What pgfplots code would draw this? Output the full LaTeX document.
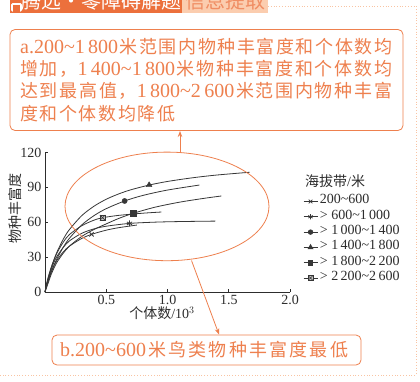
\documentclass[border=0pt]{standalone}
\usepackage{fontspec}
\setmainfont{Liberation Serif}
\newfontfamily\cjk{Noto Sans CJK SC}
\usepackage{pgfplots}
\pgfplotsset{compat=1.18}
\usetikzlibrary{arrows.meta}
\definecolor{org}{RGB}{238,128,78}
\definecolor{orgd}{RGB}{236,112,60}
\definecolor{orgbg}{RGB}{251,205,175}
\definecolor{crv}{RGB}{55,55,55}
\definecolor{txt}{RGB}{45,45,45}
\pgfdeclareplotmark{sqx}{%
  \pgfpathrectangle{\pgfqpoint{-\pgfplotmarksize}{-\pgfplotmarksize}}{\pgfqpoint{2\pgfplotmarksize}{2\pgfplotmarksize}}%
  \pgfusepathqfillstroke
  \pgfpathmoveto{\pgfqpoint{-\pgfplotmarksize}{-\pgfplotmarksize}}%
  \pgfpathlineto{\pgfqpoint{\pgfplotmarksize}{\pgfplotmarksize}}%
  \pgfpathmoveto{\pgfqpoint{-\pgfplotmarksize}{\pgfplotmarksize}}%
  \pgfpathlineto{\pgfqpoint{\pgfplotmarksize}{-\pgfplotmarksize}}%
  \pgfusepathqstroke}
\newcommand\cjkb{\cjk\fontsize{18}{24}\selectfont}
\begin{document}
\begin{tikzpicture}[x=1pt,y=1pt]
\useasboundingbox (0,0) rectangle (420,-381);
\clip (0,0) rectangle (420,-381);
\fill[white] (0,0) rectangle (420,-381);
% header
\fill[orgd] (10,8) rectangle (182,-12.5);
\fill[orgbg] (182,8) rectangle (268,-12.5);
\fill[white,rounded corners=1.5pt] (11,-3) rectangle (22,-11.5);
\fill[orgd] (13,-5) rectangle (20,-11.5);
\node[text=white, font=\cjk\fontsize{20}{20}\selectfont] at (101,-1) {腾远·零障碍解题};
\node[text=orgd!80, font=\cjk\fontsize{20}{20}\selectfont] at (225,-1) {信息提取};
\draw[orgbg!90!orgd, dotted, line width=0.8pt] (268,-6) -- (416,-6) -- (416,-375) -- (0,-375);
% box a
\draw[org, line width=0.8pt, rounded corners=5pt] (10,-29.5) rectangle (403,-130.5);
\begin{scope}[every node/.style={anchor=base west, inner sep=0pt, text=org, font=\fontsize{20}{24}\selectfont}]
\node at (20,-53.5) {\makebox[372pt][s]{a.200\textasciitilde1\,800\hfill\cjkb 米\hfill 范\hfill 围\hfill 内\hfill 物\hfill 种\hfill 丰\hfill 富\hfill 度\hfill 和\hfill 个\hfill 体\hfill 数\hfill 均}};
\node at (20,-75.5) {\makebox[372pt][s]{{\cjkb 增\hfill 加\hfill ，}1\,400\textasciitilde1\,800\hfill\cjkb 米\hfill 物\hfill 种\hfill 丰\hfill 富\hfill 度\hfill 和\hfill 个\hfill 体\hfill 数\hfill 均}};
\node at (20,-97.4) {\makebox[372pt][s]{{\cjkb 达\hfill 到\hfill 最\hfill 高\hfill 值\hfill ，}1\,800\textasciitilde2\,600\hfill\cjkb 米\hfill 范\hfill 围\hfill 内\hfill 物\hfill 种\hfill 丰\hfill 富}};
\node at (20,-120.5) {\makebox[155pt][s]{\cjkb 度\hfill 和\hfill 个\hfill 体\hfill 数\hfill 均\hfill 降\hfill 低}};
\node at (60,-356.5) {\makebox[288pt][s]{b.200\textasciitilde600\hfill\cjkb 米\hfill 鸟\hfill 类\hfill 物\hfill 种\hfill 丰\hfill 富\hfill 度\hfill 最\hfill 低}};
\end{scope}
\draw[org, line width=0.8pt, rounded corners=5pt] (52,-335) rectangle (361,-365);
% chart
\begin{axis}[at={(45pt,-292pt)}, anchor=south west, scale only axis,
  width=245pt, height=139.5pt, xmin=0, xmax=2, ymin=0, ymax=120,
  axis lines=left, axis line style={-, txt, line width=0.7pt},
  xtick={0.5,1,1.5,2}, ytick={0,30,60,90,120},
  tick align=inside, major tick length=3pt, tick style={txt, line width=0.6pt},
  ticklabel style={font=\fontsize{14}{14}\selectfont, text=txt},
  /pgf/number format/assume math mode=true,
  xticklabel style={/pgf/number format/.cd, fixed, fixed zerofill, precision=1},
  clip=false,
  legend cell align=left,
  legend image code/.code={\draw[mark repeat=2,mark phase=2,#1] plot coordinates {(0pt,0pt) (7pt,0pt) (14pt,0pt)};},
  legend style={draw=none, fill=none, at={(axis description cs:1.053,0.705)}, anchor=north west,
    inner sep=0pt, row sep=0pt, column sep=2pt, font=\fontsize{14}{15}\selectfont, text=txt,
    nodes={inner sep=0pt, text height=10pt, text depth=5.3pt}},
]
\addlegendimage{crv, line width=0.7pt, mark=x, mark size=2.6pt}
\addlegendentry{200\textasciitilde600}
\addlegendimage{crv, line width=0.7pt, mark=asterisk, mark size=2.6pt}
\addlegendentry{> 600\textasciitilde1\,000}
\addlegendimage{crv, line width=0.7pt, mark=*, mark size=2.3pt}
\addlegendentry{> 1\,000\textasciitilde1\,400}
\addlegendimage{crv, line width=0.7pt, mark=triangle*, mark size=2.8pt}
\addlegendentry{> 1\,400\textasciitilde1\,800}
\addlegendimage{crv, line width=0.7pt, mark=square*, mark size=2.3pt}
\addlegendentry{> 1\,800\textasciitilde2\,200}
\addlegendimage{crv, line width=0.7pt, mark=sqx, mark size=2.3pt, mark options={fill=gray!45, line width=0.5pt}}
\addlegendentry{> 2\,200\textasciitilde2\,600}
% 1400-1800
\addplot[crv, line width=0.8pt, smooth, forget plot] coordinates {(0,0) (0.005,2.43) (0.01,4.76) (0.02,9.15) (0.035,15.1) (0.05,20.5) (0.075,28.3) (0.1,34.9) (0.15,45.6) (0.2,53.8) (0.3,65.7) (0.4,73.8) (0.5,79.8) (0.6,84.3) (0.7,87.9) (0.85,92.0) (1.0,95.1) (1.2,98.2) (1.4,100.6) (1.67,103.0)};
% 1000-1400
\addplot[crv, line width=0.8pt, smooth, forget plot] coordinates {(0,0) (0.005,1.93) (0.01,3.79) (0.02,7.34) (0.035,12.2) (0.05,16.7) (0.075,23.3) (0.1,29.1) (0.15,38.7) (0.2,46.3) (0.3,57.7) (0.4,65.7) (0.5,71.7) (0.65,78.3) (0.8,83.1) (1.0,87.7) (1.26,92.0)};
% 1800-2200
\addplot[crv, line width=0.8pt, smooth, forget plot] coordinates {(0,0) (0.01,3) (0.02,6) (0.035,10.5) (0.05,15) (0.075,21) (0.1,26) (0.15,33.5) (0.2,39.5) (0.3,47.8) (0.4,53.8) (0.5,58.6) (0.6,63.2) (0.72,67.7) (0.9,73) (1.1,77.3) (1.3,80.6) (1.44,82.6)};
% 2200-2600
\addplot[crv, line width=0.8pt, smooth, forget plot] coordinates {(0,0) (0.005,3) (0.01,5.8) (0.02,10.5) (0.035,16) (0.05,21) (0.075,28) (0.1,34) (0.15,43) (0.2,49.5) (0.3,57) (0.4,61.8) (0.47,63.9) (0.6,65.9) (0.8,67.8) (0.95,68.8)};
% 600-1000
\addplot[crv, line width=0.8pt, smooth, forget plot] coordinates {(0,0) (0.005,2.5) (0.01,4.5) (0.02,8.5) (0.035,14) (0.05,19) (0.075,26) (0.1,31) (0.15,38.5) (0.2,44) (0.3,50.5) (0.4,54.3) (0.5,56.6) (0.69,59) (0.9,60.1) (1.1,60.6) (1.39,61)};
% 200-600
\addplot[crv, line width=0.8pt, smooth, forget plot] coordinates {(0,0) (0.005,2.24) (0.01,4.34) (0.02,8.17) (0.035,13.1) (0.05,17.3) (0.075,23.1) (0.1,27.7) (0.15,34.6) (0.2,39.5) (0.3,46.1) (0.38,49.6) (0.5,53.2) (0.6,55.3) (0.75,57.6)};
% markers
\addplot[only marks, crv, mark=x, mark size=3pt, line width=0.8pt, forget plot] coordinates {(0.38,49.6)};
\addplot[only marks, crv, mark=asterisk, mark size=3pt, line width=0.8pt, forget plot] coordinates {(0.69,59)};
\addplot[only marks, crv, mark=*, mark size=2.6pt, forget plot] coordinates {(0.65,78.3)};
\addplot[only marks, crv, mark=triangle*, mark size=3.3pt, forget plot] coordinates {(0.85,92.0)};
\addplot[only marks, crv, mark=square*, mark size=2.7pt, forget plot] coordinates {(0.72,67.7)};
\addplot[only marks, crv, mark=sqx, mark size=2.7pt, mark options={fill=gray!45, line width=0.6pt}, forget plot] coordinates {(0.47,63.9)};
\end{axis}
\node[text=txt, font=\cjk\fontsize{14}{14}\selectfont, rotate=90] at (15.5,-208) {物种丰富度};
\node[text=txt, font=\fontsize{14}{14}\selectfont] at (162,-313.5) {{\cjk 个体数}/10$^{3}$};
\node[text=txt, font=\fontsize{14}{14}\selectfont, anchor=west, inner sep=0pt] at (305,-181.5) {{\cjk 海拔带}/{\cjk 米}};
% ellipse and arrows
\draw[org, line width=0.8pt] (167,-206.4) ellipse [x radius=102, y radius=54.3];
\draw[org, line width=0.8pt, -{Stealth[length=6pt,width=4.5pt]}] (180,-152) -- (180,-131);
\draw[org, line width=0.8pt, -{Stealth[length=6pt,width=4.5pt]}] (191.5,-260.5) -- (219,-334.5);
\end{tikzpicture}
\end{document}
